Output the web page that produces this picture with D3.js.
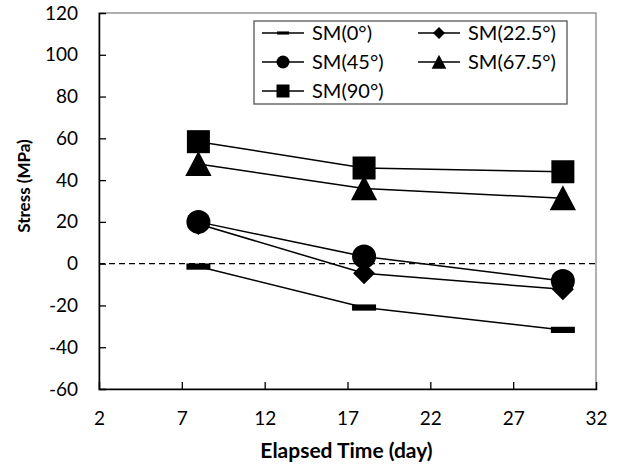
<!DOCTYPE html>
<meta charset="utf-8">
<style>
body { margin: 0; background: #fff; }
svg text { font-family: Lato, "Open Sans", sans-serif; fill: #000; }
.axis-title { font-weight: bold; }
.legend text { font-size: 20px; }
</style>
<body>
<script src="https://d3js.org/d3.v7.min.js"></script>
<script>

var days = [8, 18, 30];
var sm0 = [-1.4, -21, -31.7];
var sm225 = [19, -4.6, -12.3];
var sm45 = [20, 3.4, -8.3];
var sm675 = [47.7, 36, 31.3];
var sm90 = [58.4, 45.8, 44];
var xTicks = [2, 7, 12, 17, 22, 27, 32];
var yTicks = [-60, -40, -20, 0, 20, 40, 60, 80, 100, 120];

var series = [
  {name: "SM(0°)", values: sm0, shape: "dash"},
  {name: "SM(22.5°)", values: sm225, shape: "diamond"},
  {name: "SM(45°)", values: sm45, shape: "circle"},
  {name: "SM(67.5°)", values: sm675, shape: "triangle"},
  {name: "SM(90°)", values: sm90, shape: "square"}
];

var margin = {top: 13, right: 26, bottom: 79, left: 99},
    width = 622 - margin.left - margin.right,
    height = 468 - margin.top - margin.bottom;

var x = d3.scaleLinear().domain([2, 32]).range([0, width]);
var y = d3.scaleLinear().domain([-60, 120]).range([height, 0]);

var svg = d3.select("body").append("svg")
    .attr("width", 622)
    .attr("height", 468)
  .append("g")
    .attr("transform", "translate(" + margin.left + "," + margin.top + ")");

// gray frame on top and right
svg.append("rect")
    .attr("width", width).attr("height", height)
    .attr("fill", "none").attr("stroke", "#868686").attr("stroke-width", 1.3);

var plain = function(d) { return String(d); };  // keep hyphen minus like the original

var xAxis = svg.append("g")
    .attr("transform", "translate(0," + height + ")")
    .call(d3.axisBottom(x).tickValues(xTicks).tickSize(-7).tickPadding(23).tickFormat(plain));
var yAxis = svg.append("g")
    .call(d3.axisLeft(y).tickValues(yTicks).tickSize(-7).tickPadding(21).tickFormat(plain));

[xAxis, yAxis].forEach(function(a) {
  a.attr("font-family", null).attr("font-size", null);
  a.select(".domain").attr("stroke", "#000").attr("stroke-width", 1.5);
  a.selectAll(".tick line").attr("stroke", "#000").attr("stroke-width", 1.3);
  a.selectAll(".tick text").style("font-size", "19px");
});
xAxis.selectAll(".tick").filter(function(d) { return d === 2 || d === 32; }).select("line").remove();
yAxis.selectAll(".tick").filter(function(d) { return d === -60 || d === 120; }).select("line").remove();

// zero line
svg.append("line")
    .attr("x1", 0).attr("x2", width)
    .attr("y1", y(0)).attr("y2", y(0))
    .attr("stroke", "#000").attr("stroke-width", 1.3)
    .attr("stroke-dasharray", "6,4");

svg.append("text").attr("class", "axis-title")
    .attr("x", width / 2 - 1).attr("y", height + 69)
    .attr("text-anchor", "middle")
    .style("font-size", "21px")
    .text("Elapsed Time (day)");
svg.append("text").attr("class", "axis-title")
    .attr("transform", "translate(" + (-69) + "," + 173 + ") rotate(-90)")
    .attr("text-anchor", "middle")
    .style("font-size", "17px")
    .text("Stress (MPa)");

function drawMarker(g, shape, s) {
  if (shape === "dash") {
    g.append("rect").attr("x", -s * 0.5).attr("y", -s * 0.13).attr("width", s).attr("height", s * 0.26);
  } else if (shape === "square") {
    g.append("rect").attr("x", -s / 2).attr("y", -s / 2).attr("width", s).attr("height", s);
  } else if (shape === "circle") {
    g.append("circle").attr("r", s / 2);
  } else if (shape === "diamond") {
    var h = s / 2;
    g.append("path").attr("d", "M0," + (-h) + "L" + h + ",0L0," + h + "L" + (-h) + ",0Z");
  } else if (shape === "triangle") {
    var h2 = s / 2;
    g.append("path").attr("d", "M0," + (-h2 * 1.05) + "L" + (h2 * 1.05) + "," + (h2 * 0.95) + "L" + (-h2 * 1.05) + "," + (h2 * 0.95) + "Z");
  }
}

var line = d3.line()
    .x(function(d, i) { return x(days[i]); })
    .y(function(d) { return y(d); });

series.forEach(function(s) {
  svg.append("path")
      .attr("d", line(s.values))
      .attr("fill", "none").attr("stroke", "#000").attr("stroke-width", 1.5);
});

var sizes = {dash: 24, square: 23, circle: 24, diamond: 22, triangle: 25};
series.forEach(function(s) {
  s.values.forEach(function(v, i) {
    var g = svg.append("g")
        .attr("transform", "translate(" + x(days[i]) + "," + y(v) + ")")
        .attr("fill", "#000");
    drawMarker(g, s.shape, sizes[s.shape]);
  });
});

// legend
var legend = svg.append("g").attr("class", "legend")
    .attr("transform", "translate(" + (254 - margin.left) + "," + (21 - margin.top) + ")");
legend.append("rect")
    .attr("width", 313).attr("height", 83)
    .attr("fill", "#fff").attr("stroke", "#555").attr("stroke-width", 1.3);

var legSizes = {dash: 12, square: 13, circle: 13, diamond: 12, triangle: 14};
series.forEach(function(s, i) {
  var col = i % 2, row = Math.floor(i / 2);
  var gx = col === 0 ? 8 : 164, gy = 12 + row * 29;
  var item = legend.append("g").attr("transform", "translate(" + gx + "," + gy + ")");
  item.append("line").attr("x1", 0).attr("x2", 42).attr("y1", 0).attr("y2", 0)
      .attr("stroke", "#000").attr("stroke-width", 1.5);
  var m = item.append("g").attr("transform", "translate(21,0)").attr("fill", "#000");
  drawMarker(m, s.shape, legSizes[s.shape]);
  item.append("text").attr("x", 50).attr("y", 0).attr("dy", "0.35em").text(s.name);
});

</script>
